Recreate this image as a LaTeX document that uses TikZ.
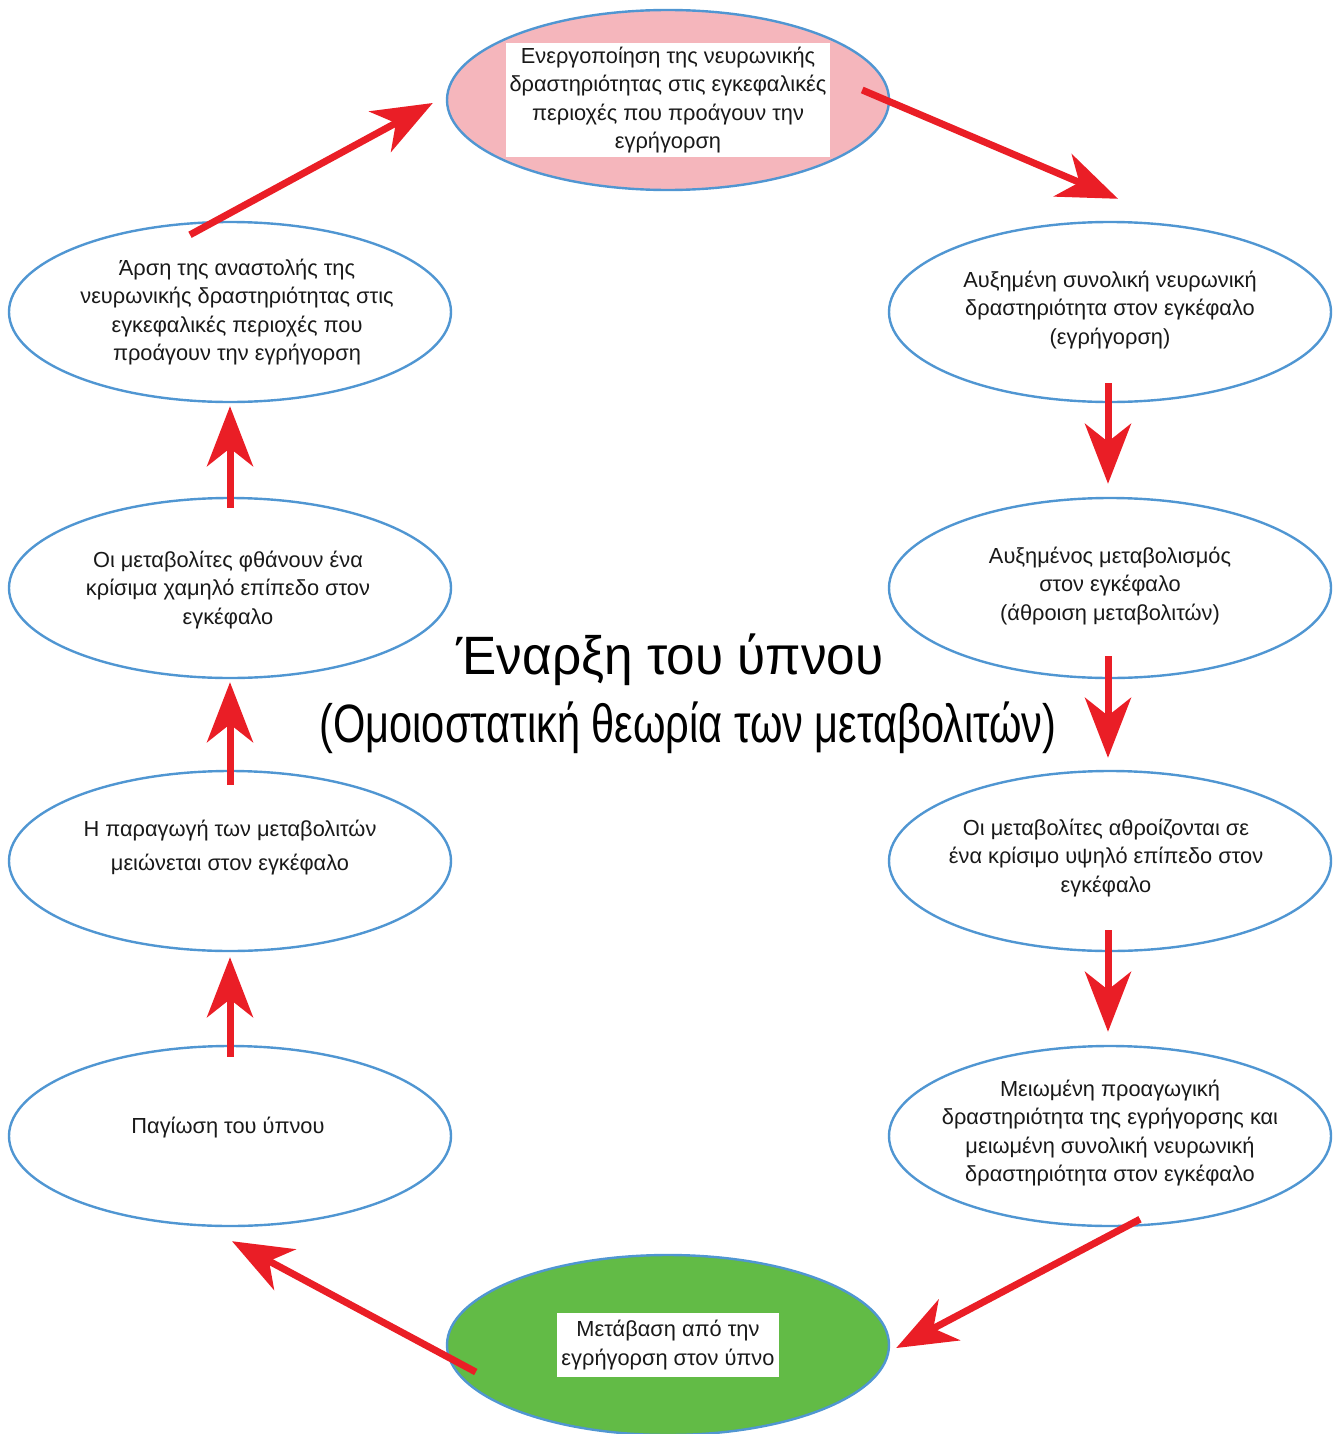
\documentclass[tikz,border=0pt]{standalone}
\usepackage{fontspec}
\setmainfont{Liberation Sans}
\newfontfamily\titlefont[FakeStretch=0.95]{Liberation Sans}
\newfontfamily\subtitlefont[FakeStretch=0.77]{Liberation Sans}
\usepackage{tikz}
\usetikzlibrary{arrows.meta,calc,shapes.geometric}
\definecolor{rand}{RGB}{80,150,210}
\definecolor{pfeil}{RGB}{234,30,38}
\definecolor{rosa}{RGB}{245,182,188}
\definecolor{gruen}{RGB}{98,187,70}

\begin{document}
\begin{tikzpicture}[x=0.5pt,y=-0.5pt]
\tikzstyle{bubble}=[ellipse,draw=rand,line width=1.2pt,minimum width=221pt,minimum height=90pt]
\tikzstyle{txt}=[align=center,font=\fontsize{10.9}{14.25}\selectfont,text=black!90,inner sep=2pt]
\tikzstyle{arr}=[draw=pfeil,line width=3.5pt,-{Stealth[length=30pt,width=23pt,inset=9pt]}]
\useasboundingbox (0,0) rectangle (1342,1434);

% top and bottom
\node[bubble,fill=rosa] (akt) at (668,100) {};
\node[txt,fill=white,minimum width=162pt,minimum height=57pt] (akttxt) at (akt)
  {Ενεργοποίηση της νευρωνικής\\δραστηριότητας στις εγκεφαλικές\\περιοχές που προάγουν την\\εγρήγορση};
\node[bubble,fill=gruen] (meta) at (668,1345) {};
\node[txt,fill=white,minimum width=103pt,minimum height=32pt] (metatxt) at (meta)
  {Μετάβαση από την\\εγρήγορση στον ύπνο};

% right column
\node[bubble] (aux) at (1110,312) {};
\node[txt] (auxtxt) at (1110,310) {Αυξημένη συνολική νευρωνική\\δραστηριότητα στον εγκέφαλο\\(εγρήγορση)};
\node[bubble] (meb) at (1110,588) {};
\node[txt] (mebtxt) at (1110,586) {Αυξημένος μεταβολισμός\\στον εγκέφαλο\\(άθροιση μεταβολιτών)};
\node[bubble] (hoch) at (1110,861) {};
\node[txt] (hochtxt) at (1106,858) {Οι μεταβολίτες αθροίζονται σε\\ένα κρίσιμο υψηλό επίπεδο στον\\εγκέφαλο};
\node[bubble] (mei) at (1110,1136) {};
\node[txt] (meitxt) at (1110,1133) {Μειωμένη προαγωγική\\δραστηριότητα της εγρήγορσης και\\μειωμένη συνολική νευρωνική\\δραστηριότητα στον εγκέφαλο};

% left column
\node[bubble] (arsi) at (230,312) {};
\node[txt] (arsitxt) at (237,312) {Άρση της αναστολής της\\νευρωνικής δραστηριότητας στις\\εγκεφαλικές περιοχές που\\προάγουν την εγρήγορση};
\node[bubble] (tief) at (230,588) {};
\node[txt] (tieftxt) at (228,590) {Οι μεταβολίτες φθάνουν ένα\\κρίσιμα χαμηλό επίπεδο στον\\εγκέφαλο};
\node[bubble] (prod) at (230,861) {};
\node[txt,font=\fontsize{10.9}{17}\selectfont] (prodtxt) at (230,848) {Η παραγωγή των μεταβολιτών\\μειώνεται στον εγκέφαλο};
\node[bubble] (pag) at (230,1136) {};
\node[txt] (pagtxt) at (228,1128) {Παγίωση του ύπνου};

% title
\node[font=\titlefont\fontsize{27}{34}\selectfont] (titel1) at (670,660) {Έναρξη του ύπνου};
\node[font=\subtitlefont\fontsize{27}{34}\selectfont] (titel2) at (688,728) {(Ομοιοστατική θεωρία των μεταβολιτών)};

% arrows
\draw[arr] ($(arsi.north)+(-40,14)$) -- ($(akt.west)+(-13,3)$);
\draw[arr] ($(akt.east)+(-28,-10)$) -- ($(aux.north)+(8,-22)$);
\draw[arr] ($(aux.south)+(-2,-20)$) -- ($(meb.north)+(-2,-13)$);
\draw[arr] ($(meb.south)+(-2,-23)$) -- ($(hoch.north)+(-2,-12)$);
\draw[arr] ($(hoch.south)+(-2,-22)$) -- ($(mei.north)+(-2,-13)$);
\draw[arr] ($(mei.south)+(30,-8)$) -- ($(meta.east)+(6,3)$);
\draw[arr] ($(meta.west)+(30,27)$) -- ($(pag.south)+(2,14)$);
\draw[arr] ($(pag.north)+(0,12)$) -- ($(prod.south)+(0,5)$);
\draw[arr] ($(prod.north)+(0,15)$) -- ($(tief.south)+(0,3)$);
\draw[arr] ($(tief.north)+(0,11)$) -- ($(arsi.south)+(0,3)$);
\end{tikzpicture}
\end{document}
